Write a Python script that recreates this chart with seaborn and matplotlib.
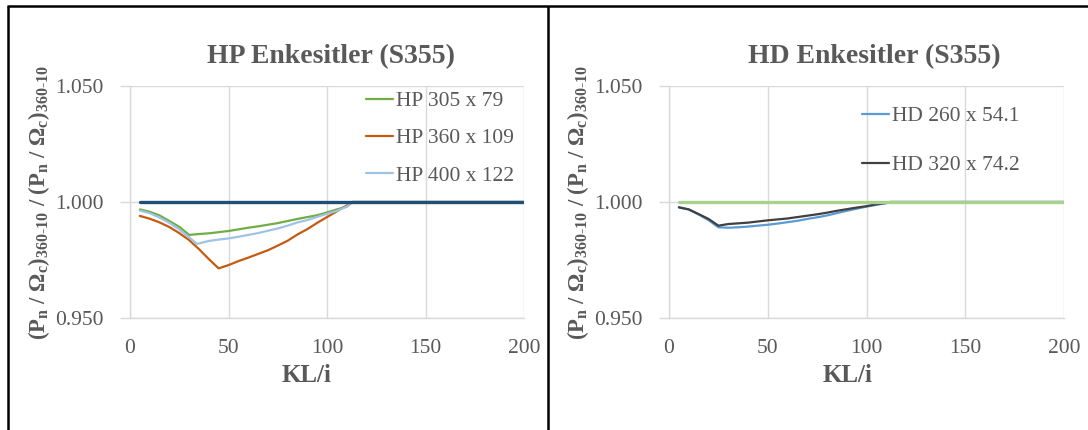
import numpy as np
import pandas as pd
import matplotlib
matplotlib.use("Agg")
import matplotlib.pyplot as plt
from matplotlib.lines import Line2D
import seaborn as sns

# ---- data -------------------------------------------------------------
hp305_x = [5, 10, 15, 20, 25, 30, 35, 40, 45, 50, 55, 60, 65, 70, 75, 80, 85, 90, 95, 100, 105, 110, 113, 200]
hp305_y = [0.9968, 0.9958, 0.9942, 0.9918, 0.9893, 0.9858, 0.9862, 0.9865, 0.9870, 0.9875, 0.9882, 0.9889,
           0.9895, 0.9902, 0.9909, 0.9918, 0.9927, 0.9935, 0.9943, 0.9955, 0.9968, 0.9980, 1.0, 1.0]

hp360_x = [5, 10, 15, 20, 25, 30, 35, 40, 45, 50, 55, 60, 65, 70, 75, 80, 85, 90, 95, 100, 105, 110, 113, 200]
hp360_y = [0.9940, 0.9928, 0.9912, 0.9892, 0.9866, 0.9836, 0.9797, 0.9754, 0.9714, 0.9728, 0.9745, 0.9760,
           0.9776, 0.9792, 0.9812, 0.9833, 0.9860, 0.9883, 0.9910, 0.9935, 0.9960, 0.9985, 1.0, 1.0]

hp400_x = [5, 10, 15, 20, 25, 30, 34, 40, 45, 50, 55, 60, 65, 70, 75, 80, 85, 90, 95, 100, 105, 110, 113, 200]
hp400_y = [0.9963, 0.9952, 0.9933, 0.9910, 0.9882, 0.9848, 0.9819, 0.9832, 0.9838, 0.9843, 0.9850, 0.9858,
           0.9866, 0.9876, 0.9886, 0.9898, 0.9912, 0.9922, 0.9936, 0.9949, 0.9962, 0.9980, 1.0, 1.0]

hd260_x = [5, 10, 15, 20, 25, 30, 35, 40, 45, 50, 55, 60, 65, 70, 75, 80, 85, 90, 95, 100, 105, 110, 112, 200]
hd260_y = [0.9977, 0.9968, 0.9946, 0.9922, 0.9891, 0.9889, 0.9891, 0.9894, 0.9898, 0.9902, 0.9907, 0.9913,
           0.9919, 0.9927, 0.9934, 0.9942, 0.9952, 0.9962, 0.9971, 0.9980, 0.9988, 0.9995, 1.0, 1.0]

hd320_x = [5, 10, 15, 20, 25, 30, 35, 40, 45, 50, 55, 60, 65, 70, 75, 80, 85, 90, 95, 100, 105, 110, 112, 200]
hd320_y = [0.9977, 0.9968, 0.9948, 0.9927, 0.9898, 0.9905, 0.9908, 0.9911, 0.9916, 0.9921, 0.9925, 0.9929,
           0.9935, 0.9941, 0.9947, 0.9954, 0.9962, 0.9969, 0.9976, 0.9982, 0.9990, 0.9996, 1.0, 1.0]

# unit reference ratio (360-10 against itself)
ref_x = [5, 200]
ref_y = [1.0, 1.0]

hp_labels = ["HP 305 x 79", "HP 360 x 109", "HP 400 x 122"]
hd_labels = ["HD 260 x 54.1", "HD 320 x 74.2"]
titles = ["HP Enkesitler (S355)", "HD Enkesitler (S355)"]
y_ticks = [0.950, 1.000, 1.050]
x_ticks = [0, 50, 100, 150, 200]


def long_frame(xs, ys, names):
    parts = [pd.DataFrame({"KL/i": x, "ratio": y, "series": n}) for x, y, n in zip(xs, ys, names)]
    return pd.concat(parts, ignore_index=True)


hp_df = long_frame([hp305_x, hp360_x, hp400_x], [hp305_y, hp360_y, hp400_y], hp_labels)
hd_df = long_frame([hd260_x, hd320_x], [hd260_y, hd320_y], hd_labels)
ref_df = pd.DataFrame({"KL/i": ref_x, "ratio": ref_y})

# ---- style ------------------------------------------------------------
sns.set_theme(style="white")
plt.rcParams["font.family"] = ["Liberation Serif", "DejaVu Serif"]
plt.rcParams["mathtext.fontset"] = "custom"
plt.rcParams["mathtext.rm"] = "Liberation Serif"
plt.rcParams["mathtext.it"] = "Liberation Serif:italic"
plt.rcParams["mathtext.bf"] = "Liberation Serif:bold"

TXT = "#595959"
GRID = "#D9D9D9"
W, H = 1088, 430

fig = plt.figure(figsize=(W / 100, H / 100), dpi=100)
fig.patch.set_facecolor("white")


def px_axes(x0, x1, y0, y1):
    return fig.add_axes([x0 / W, 1 - y1 / H, (x1 - x0) / W, (y1 - y0) / H])


ax_hp = px_axes(130, 524, 86, 318)
ax_hd = px_axes(669, 1064, 86, 318)

hp_pal = dict(zip(hp_labels, ["#70AD47", "#C55A11", "#9DC3E6"]))
hd_pal = dict(zip(hd_labels, ["#5B9BD5", "#404040"]))

sns.lineplot(data=hp_df, x="KL/i", y="ratio", hue="series", palette=hp_pal, hue_order=hp_labels,
             estimator=None, sort=False, linewidth=1.6, ax=ax_hp, legend=False)
sns.lineplot(data=ref_df, x="KL/i", y="ratio", color="#1F4E79", linewidth=2.4, ax=ax_hp, legend=False)

sns.lineplot(data=hd_df, x="KL/i", y="ratio", hue="series", palette=hd_pal, hue_order=hd_labels,
             estimator=None, sort=False, linewidth=1.6, ax=ax_hd, legend=False)
sns.lineplot(data=ref_df, x="KL/i", y="ratio", color="#A9D18E", linewidth=2.4, ax=ax_hd, legend=False)

ylab = (r"$\mathbf{(P_n\ /\ \Omega_c)_{360\text{-}10}\ /\ (P_n\ /\ \Omega_c)_{360\text{-}10}}$")

for ax, title, tx in [(ax_hp, titles[0], 0.511), (ax_hd, titles[1], 0.519)]:
    ax.set_xlim(0, 200)
    ax.set_ylim(0.95, 1.05)
    ax.set_xticks(x_ticks)
    ax.set_yticks(y_ticks)
    ax.set_yticklabels([f"{v:.3f}" for v in y_ticks])
    ax.grid(True, color=GRID, linewidth=1.0)
    ax.set_axisbelow(True)
    for side in ["top", "right"]:
        ax.spines[side].set_visible(False)
    for side in ["left", "bottom"]:
        ax.spines[side].set_color(GRID)
        ax.spines[side].set_linewidth(1.0)
    ax.tick_params(axis="y", which="major", left=True, length=7, width=1.0, color=GRID,
                   labelsize=15.5, labelcolor=TXT, pad=12)
    ax.tick_params(axis="x", which="major", bottom=False, labelsize=15.5, labelcolor=TXT, pad=9)
    ax.set_xlabel("KL/i", fontsize=18, fontweight="bold", color=TXT)
    ax.set_ylabel(ylab, fontsize=16.5, color=TXT)
    ax.yaxis.set_label_coords(-0.198, 0.5)
    ax.text(tx, 1.125, title, transform=ax.transAxes, ha="center", va="center",
            fontsize=20, fontweight="bold", color=TXT)

ax_hp.xaxis.set_label_coords(0.449, -0.2)
ax_hd.xaxis.set_label_coords(0.453, -0.2)

# legends
hp_handles = [Line2D([], [], color=hp_pal[n], linewidth=1.6) for n in hp_labels]
hd_handles = [Line2D([], [], color=hd_pal[n], linewidth=1.6) for n in hd_labels]
leg1 = ax_hp.legend(hp_handles, hp_labels, loc="upper left", bbox_to_anchor=(366 / W, 1 - 91 / H),
                    bbox_transform=fig.transFigure, frameon=False, fontsize=15.5, handlelength=1.25,
                    handletextpad=0.15, borderpad=0, borderaxespad=0, labelspacing=0.8,
                    labelcolor=TXT)
leg2 = ax_hd.legend(hd_handles, hd_labels, loc="upper left", bbox_to_anchor=(862 / W, 1 - 106 / H),
                    bbox_transform=fig.transFigure, frameon=False, fontsize=15.5, handlelength=1.25,
                    handletextpad=0.15, borderpad=0, borderaxespad=0, labelspacing=1.35,
                    labelcolor=TXT)

# panel frames
frame_kw = dict(color="black", linewidth=1.8, transform=fig.transFigure, solid_capstyle="butt")
fig.add_artist(Line2D([7 / W, 1.0], [1 - 6 / H, 1 - 6 / H], **frame_kw))
fig.add_artist(Line2D([7.5 / W, 7.5 / W], [0, 1 - 6 / H], **frame_kw))
fig.add_artist(Line2D([548 / W, 548 / W], [0, 1 - 6 / H], **frame_kw))

fig.savefig("out.png", dpi=100, facecolor="white")
